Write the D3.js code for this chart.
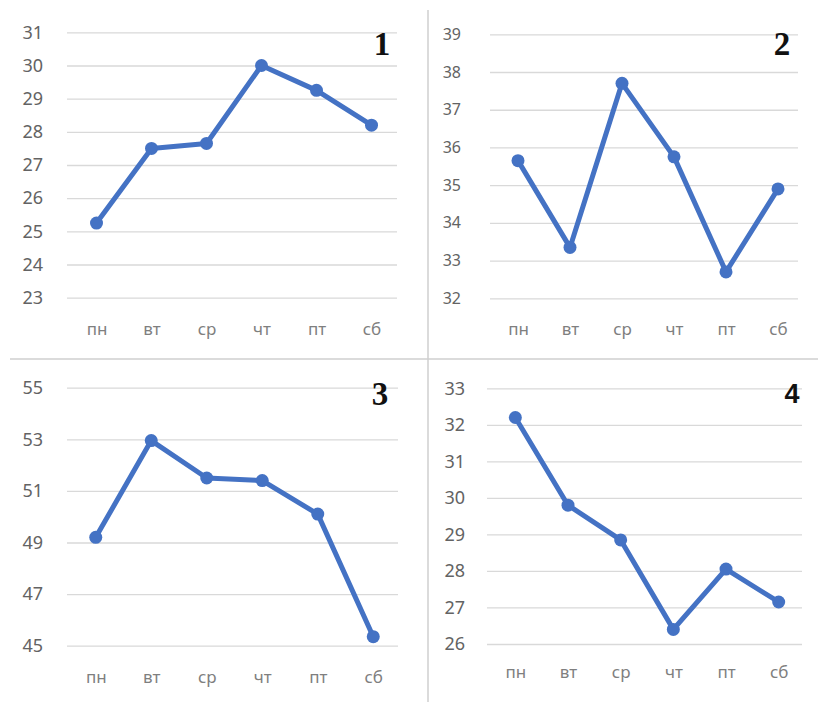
<!DOCTYPE html>
<html>
<head>
<meta charset="utf-8">
<script src="https://cdn.jsdelivr.net/npm/d3@7"></script>
<style>
  html, body { margin: 0; padding: 0; background: #fff; }
  svg { display: block; }
  .grid line { stroke: #d9d9d9; stroke-width: 1.3; }
  .grid text { fill: #636363; font-family: "Noto Sans", sans-serif; }
  .cats text { fill: #7f7f7f; font-family: "Noto Sans", sans-serif; }
</style>
</head>
<body>
<script>
// Data
const days = ['пн', 'вт', 'ср', 'чт', 'пт', 'сб'];

const values1 = [25.25, 27.5, 27.65, 30.0, 29.25, 28.2];
const values2 = [35.65, 33.35, 37.7, 35.75, 32.7, 34.9];
const values3 = [49.2, 52.95, 51.5, 51.4, 50.1, 45.35];
const values4 = [32.2, 29.8, 28.85, 26.4, 28.05, 27.15];

const ticks1 = [23, 24, 25, 26, 27, 28, 29, 30, 31];
const ticks2 = [32, 33, 34, 35, 36, 37, 38, 39];
const ticks3 = [45, 47, 49, 51, 53, 55];
const ticks4 = [26, 27, 28, 29, 30, 31, 32, 33];

const width = 818;
const height = 702;
const blue = '#4472c4';

const svg = d3.select('body')
  .append('svg')
  .attr('width', width)
  .attr('height', height);

// Panel boxes (pixel layout of each small chart)
const panels = [
  { values: values1, ticks: ticks1, name: '1', serif: true,
    gx: [67, 397], px: [69, 399], py: [297.7, 32.3], pad: 24, catY: 336,
    tickSize: 18, numX: 382, numY: 55, numSize: 33 },
  { values: values2, ticks: ticks2, name: '2', serif: true,
    gx: [490, 798], px: [492, 804], py: [298.3, 34.3], pad: 29, catY: 336,
    tickSize: 16, numX: 782, numY: 55, numSize: 33 },
  { values: values3, ticks: ticks3, name: '3', serif: true,
    gx: [67, 398], px: [68, 401], py: [645.7, 387.7], pad: 24, catY: 684,
    tickSize: 18, numX: 380, numY: 405, numSize: 33 },
  { values: values4, ticks: ticks4, name: '4', serif: false,
    gx: [487, 802], px: [489, 805], py: [644, 388.3], pad: 22, catY: 679,
    tickSize: 18, numX: 792, numY: 403, numSize: 27 }
];

// Divider lines between the panels
svg.append('line')
  .attr('x1', 428).attr('x2', 428)
  .attr('y1', 10).attr('y2', height)
  .attr('stroke', '#cfcfcf').attr('stroke-width', 1.5);
svg.append('line')
  .attr('x1', 10).attr('x2', width)
  .attr('y1', 359).attr('y2', 359)
  .attr('stroke', '#cfcfcf').attr('stroke-width', 1.5);

panels.forEach((p) => {
  const g = svg.append('g');

  const yScale = d3.scaleLinear()
    .domain([d3.min(p.ticks), d3.max(p.ticks)])
    .range(p.py);

  const xScale = d3.scalePoint()
    .domain(days)
    .range(p.px)
    .padding(0.5);

  // Gridlines + y labels
  const yAxis = d3.axisLeft(yScale)
    .tickValues(p.ticks)
    .tickFormat(d3.format('d'))
    .tickSize(-(p.gx[1] - p.gx[0]))
    .tickPadding(p.pad);

  g.append('g')
    .attr('class', 'grid')
    .attr('transform', `translate(${p.gx[0]},0)`)
    .call(yAxis)
    .call((a) => a.select('.domain').remove())
    .selectAll('text')
    .style('font-size', p.tickSize + 'px');

  // Day labels
  const xAxis = d3.axisBottom(xScale).tickSize(0).tickPadding(0);
  g.append('g')
    .attr('class', 'cats')
    .attr('transform', `translate(0,${p.catY - 13})`)
    .call(xAxis)
    .call((a) => a.select('.domain').remove())
    .selectAll('text')
    .style('font-size', '17px');

  // The line
  const line = d3.line()
    .x((d, i) => xScale(days[i]))
    .y((d) => yScale(d));

  g.append('path')
    .datum(p.values)
    .attr('fill', 'none')
    .attr('stroke', blue)
    .attr('stroke-width', 5)
    .attr('stroke-linejoin', 'round')
    .attr('d', line);

  g.selectAll('circle')
    .data(p.values)
    .enter()
    .append('circle')
    .attr('cx', (d, i) => xScale(days[i]))
    .attr('cy', (d) => yScale(d))
    .attr('r', 6.5)
    .attr('fill', blue);

  // Panel number
  g.append('text')
    .text(p.name)
    .attr('x', p.numX)
    .attr('y', p.numY)
    .attr('text-anchor', 'middle')
    .style('font-family', p.serif ? '"Liberation Serif", serif' : '"Liberation Sans", sans-serif')
    .style('font-weight', 'bold')
    .style('font-size', p.numSize + 'px')
    .style('fill', '#111');
});
</script>
</body>
</html>
